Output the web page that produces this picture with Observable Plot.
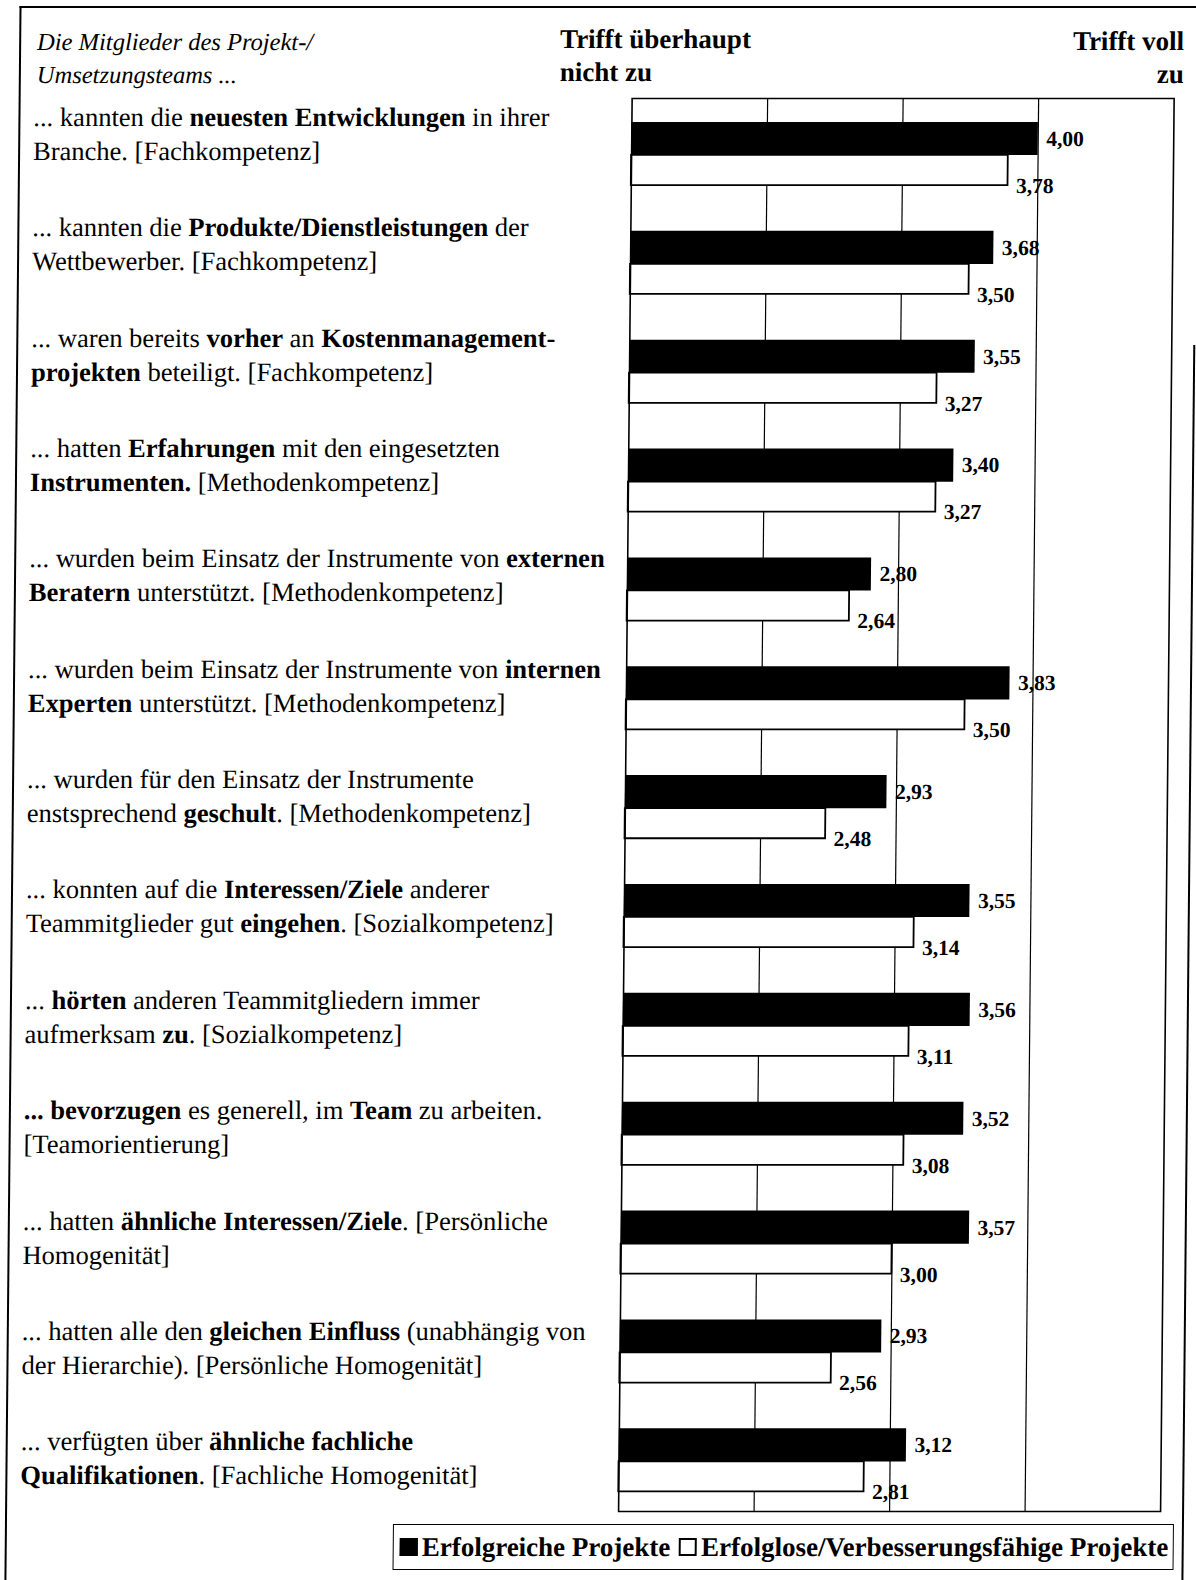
<!DOCTYPE html>
<html><head><meta charset="utf-8">
<script src="https://cdn.jsdelivr.net/npm/d3@7"></script>
<script src="https://cdn.jsdelivr.net/npm/@observablehq/plot@0.6"></script>
<style>
html,body{margin:0;padding:0;background:#fff;}
#page{position:relative;width:1196px;height:1580px;overflow:hidden;font-family:"Liberation Serif","Times New Roman",serif;color:#000;background:#fff;transform:skewX(-0.55deg);transform-origin:598px 790px;}
.abs{position:absolute;white-space:nowrap;}
.lbl{font-size:26.5px;line-height:34px;}
.hdr{font-size:26px;line-height:33px;}
.line{position:absolute;background:#000;}
#legend{position:absolute;box-sizing:border-box;border:1.5px solid #000;font-weight:bold;font-size:27px;display:flex;align-items:center;padding-left:6px;white-space:nowrap;}
.sq{display:inline-block;width:18px;height:18px;box-sizing:border-box;border:2px solid #000;margin-right:4px;}
</style></head><body><div id="page"></div>
<script>
// ---- data ----
const items = ["i01","i02","i03","i04","i05","i06","i07","i08","i09","i10","i11","i12","i13"];
const itemTexts = [
"... kannten die **neuesten Entwicklungen** in ihrer|Branche. [Fachkompetenz]",
"... kannten die **Produkte/Dienstleistungen** der|Wettbewerber. [Fachkompetenz]",
"... waren bereits **vorher** an **Kostenmanagement-**|**projekten** beteiligt. [Fachkompetenz]",
"... hatten **Erfahrungen** mit den eingesetzten|**Instrumenten.** [Methodenkompetenz]",
"... wurden beim Einsatz der Instrumente von **externen**|**Beratern** unterstützt. [Methodenkompetenz]",
"... wurden beim Einsatz der Instrumente von **internen**|**Experten** unterstützt. [Methodenkompetenz]",
"... wurden für den Einsatz der Instrumente|enstsprechend **geschult**. [Methodenkompetenz]",
"... konnten auf die **Interessen/Ziele** anderer|Teammitglieder gut **eingehen**. [Sozialkompetenz]",
"... **hörten** anderen Teammitgliedern immer|aufmerksam **zu**. [Sozialkompetenz]",
"**... bevorzugen** es generell, im **Team** zu arbeiten.|[Teamorientierung]",
"... hatten **ähnliche Interessen/Ziele**. [Persönliche|Homogenität]",
"... hatten alle den **gleichen Einfluss** (unabhängig von|der Hierarchie). [Persönliche Homogenität]",
"... verfügten über **ähnliche fachliche**|**Qualifikationen**. [Fachliche Homogenität]"
];
const erfolgreich = [4.00,3.68,3.55,3.40,2.80,3.83,2.93,3.55,3.56,3.52,3.57,2.93,3.12];
const erfolglos   = [3.78,3.50,3.27,3.27,2.64,3.50,2.48,3.14,3.11,3.08,3.00,2.56,2.81];
const xDomain = [1, 5];
const gridTicks = [2, 3, 4];
const headerLeft = ["Die Mitglieder des Projekt-/", "Umsetzungsteams ..."];
const headerMin = ["Trifft überhaupt", "nicht zu"];
const headerMax = ["Trifft voll", "zu"];
const seriesNames = ["Erfolgreiche Projekte", "Erfolglose/Verbesserungsfähige Projekte"];

// ---- build ----
const page = document.getElementById("page");
const fmt = v => d3.format(".2f")(v).replace(".", ",");
const rows = items.map((id, i) => ({id, a: erfolgreich[i], b: erfolglos[i]}));

const plot = Plot.plot({
  width: 1196, height: 1520,
  marginLeft: 625, marginRight: 29, marginTop: 98, marginBottom: 9,
  x: {domain: xDomain, axis: null},
  y: {domain: items, axis: null, paddingInner: 0.42, paddingOuter: 0.2, align: 0.55, round: false},
  style: {fontFamily: "Liberation Serif, Times New Roman, serif", background: "transparent", overflow: "visible"},
  marks: [
    Plot.ruleX(gridTicks, {stroke: "black", strokeWidth: 1.2}),
    Plot.barX(rows, {y: "id", x1: xDomain[0], x2: "a", fill: "black", insetBottom: 30}),
    Plot.barX(rows, {y: "id", x1: xDomain[0], x2: "b", fill: "white", stroke: "black", strokeWidth: 1.8, insetTop: 33}),
    Plot.text(rows, {y: "id", x: "a", text: d => fmt(d.a), textAnchor: "start", dx: 8, dy: -15, fontWeight: "bold", fontSize: 21.5, fill: "black"}),
    Plot.text(rows, {y: "id", x: "b", text: d => fmt(d.b), textAnchor: "start", dx: 8, dy: 32, fontWeight: "bold", fontSize: 21.5, fill: "black"}),
    Plot.frame({stroke: "black", strokeWidth: 1.6})
  ]
});
plot.style.position = "absolute";
plot.style.left = "0px";
plot.style.top = "0px";

// outer frame lines
function line(l, t, w, h) { const d = document.createElement("div"); d.className = "line"; Object.assign(d.style, {left: l+"px", top: t+"px", width: w+"px", height: h+"px"}); page.appendChild(d); }
line(12, 6, 1184, 2);
line(12, 6, 2, 1574);
line(1189, 345, 2, 1235);

page.appendChild(plot);

function addText(lines, cls, left, top, extra) {
  const d = document.createElement("div");
  d.className = "abs " + cls;
  d.style.left = left + "px"; d.style.top = top + "px";
  Object.assign(d.style, extra || {});
  d.innerHTML = lines.join("<br>");
  page.appendChild(d);
  return d;
}
addText(headerLeft, "hdr", 30, 25, {fontStyle: "italic", fontSize: "24.5px"});
addText(headerMin, "hdr", 553, 23, {fontWeight: "bold", fontSize: "27px"});
const hm = addText(headerMax, "hdr", 0, 25, {fontWeight: "bold", textAlign: "right", fontSize: "27px"});
hm.style.left = ""; hm.style.right = (1196 - 1177) + "px";

// item labels aligned to the y scale
const ys = plot.scale("y");
const md = s => s.replace(/\*\*(.+?)\*\*/g, "<b>$1</b>");
items.forEach((id, i) => {
  const top = ys.apply(id) - 22 + i * 1.5;
  addText(itemTexts[i].split("|").map(md), "lbl", 27, top);
});

// legend
const lg = document.createElement("div");
lg.id = "legend";
Object.assign(lg.style, {left: "400px", top: "1524px", width: "781px", height: "46px"});
lg.innerHTML = `<span class="sq" style="background:#000"></span>${seriesNames[0]}&nbsp;<span class="sq" style="background:#fff;margin-left:2px"></span>${seriesNames[1]}`;
page.appendChild(lg);
</script></body></html>
